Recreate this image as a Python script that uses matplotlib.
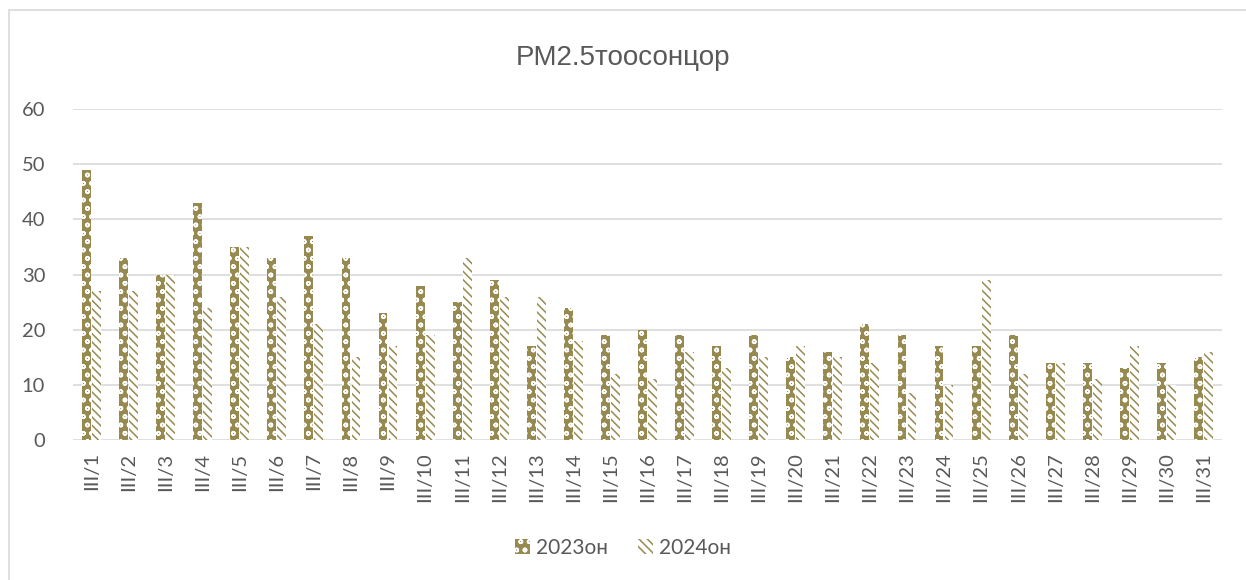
import matplotlib
matplotlib.use("Agg")
import matplotlib.pyplot as plt
import matplotlib.patches as patches
import numpy as np

# PM2.5 daily values for March
days = [f"III/{d}" for d in range(1, 32)]
pm_2023 = [49, 33, 30, 43, 35, 33, 37, 33, 23, 28, 25, 29, 17, 24, 19, 20,
           19, 17, 19, 15, 16, 21, 19, 17, 17, 19, 14, 14, 13, 14, 15]
pm_2024 = [27, 27, 30, 24, 35, 26, 21, 15, 17, 19, 33, 26, 26, 18, 12, 11,
           16, 13, 15, 17, 15, 14, 8.5, 10, 29, 12, 14, 11, 17, 10, 16]
series_labels = ["2023он", "2024он"]
title = "PM2.5тоосонцор"

OLIVE = "#978A50"
GREY_TXT = "#595959"
GRID = "#D9D9D9"
FONT = ["Lato", "DejaVu Sans"]

plt.rcParams["hatch.linewidth"] = 1.1

fig = plt.figure(figsize=(12.46, 5.8), dpi=100)
ax = fig.add_axes([73 / 1246, 1 - 440 / 580, (1222 - 73) / 1246, (440 - 109) / 580])

x = np.arange(len(days))
w = 0.24
ax.bar(x - 0.135, pm_2023, w, facecolor=OLIVE, edgecolor="white",
       hatch="oo", linewidth=0, label=series_labels[0], zorder=3)
ax.bar(x + 0.135, pm_2024, w, facecolor="white", edgecolor=OLIVE,
       hatch="\\\\\\\\", linewidth=0, label=series_labels[1], zorder=3)

ax.set_xlim(-0.5, len(days) - 0.5)
ax.set_ylim(0, 60)
ax.set_yticks(range(0, 61, 10))
ax.set_xticks(x)
ax.set_xticklabels(days, rotation=90, family=FONT, fontsize=14.5, color=GREY_TXT)
for lab in ax.get_yticklabels():
    lab.set_family(FONT)
    lab.set_fontsize(14.5)
    lab.set_color(GREY_TXT)
ax.tick_params(length=0, pad=9)
ax.tick_params(axis="y", pad=20)
ax.grid(axis="y", color=GRID, linewidth=1.2, zorder=0)
for side in ("top", "right", "left", "bottom"):
    ax.spines[side].set_visible(False)

fig.text(0.5, 1 - 58 / 580, title, ha="center", va="center",
         fontsize=20, color=GREY_TXT, family=["Liberation Sans", "DejaVu Sans"])

leg = fig.legend(loc="center", bbox_to_anchor=(0.5, 1 - 548 / 580), ncol=2,
                 frameon=False, handlelength=0.75, handleheight=0.75,
                 handletextpad=0.3, columnspacing=1.4,
                 prop={"family": FONT, "size": 15})
for t in leg.get_texts():
    t.set_color(GREY_TXT)

# light frame around the chart area, cut off at the right and bottom
fig.patches.append(patches.Rectangle((8.5 / 1246, -0.1), 1.2, 1.1 - 10.5 / 580,
                                     transform=fig.transFigure, fill=False,
                                     edgecolor=GRID, linewidth=1.2))

fig.savefig("out.png", dpi=100)
